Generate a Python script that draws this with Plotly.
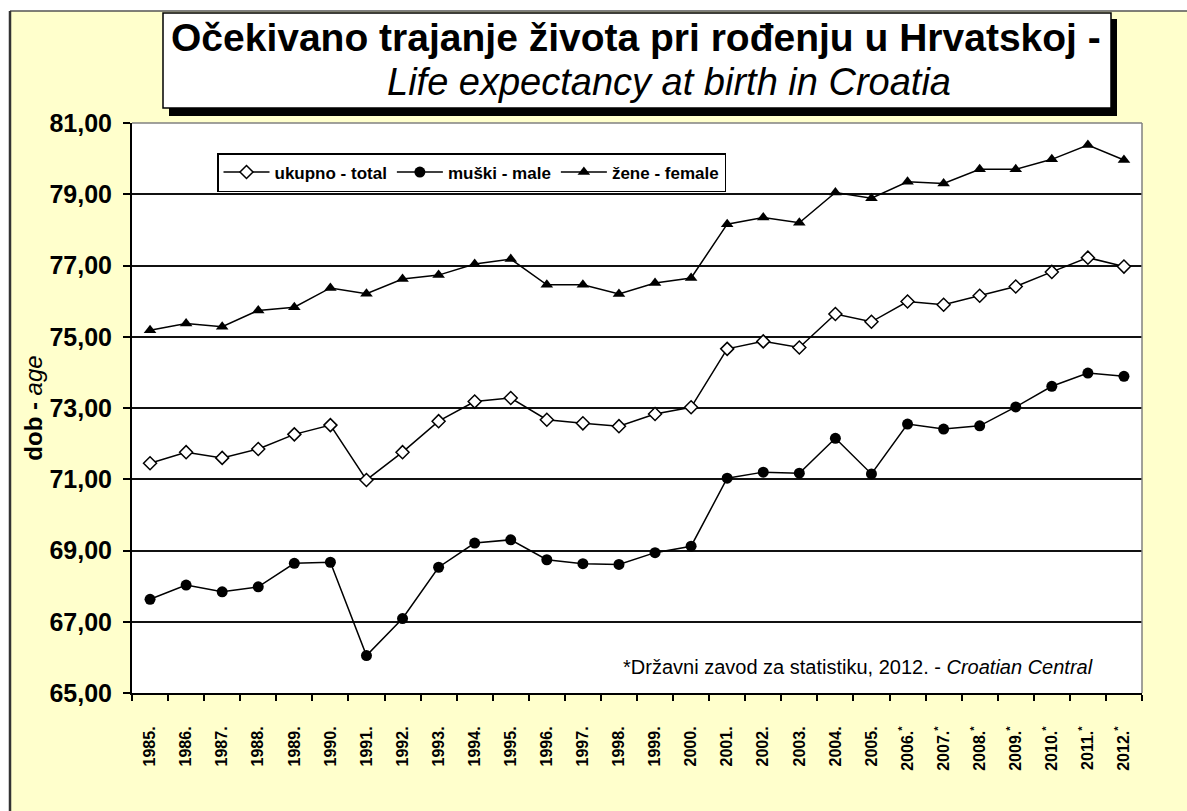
import plotly.graph_objects as go

years = ["1985.", "1986.", "1987.", "1988.", "1989.", "1990.", "1991.", "1992.", "1993.", "1994.",
         "1995.", "1996.", "1997.", "1998.", "1999.", "2000.", "2001.", "2002.", "2003.", "2004.",
         "2005.", "2006.*", "2007.*", "2008.*", "2009.*", "2010.*", "2011.*", "2012.*"]

total = [71.45, 71.76, 71.60, 71.85, 72.26, 72.52, 70.98, 71.76, 72.63, 73.18,
         73.28, 72.67, 72.57, 72.49, 72.83, 73.02, 74.66, 74.87, 74.70, 75.64,
         75.42, 75.99, 75.90, 76.15, 76.41, 76.82, 77.22, 76.97]
male = [67.63, 68.03, 67.84, 67.98, 68.64, 68.67, 66.05, 67.09, 68.53, 69.21,
        69.30, 68.74, 68.63, 68.61, 68.94, 69.12, 71.03, 71.20, 71.17, 72.15,
        71.15, 72.55, 72.41, 72.50, 73.03, 73.61, 73.98, 73.89]
female = [75.18, 75.37, 75.28, 75.74, 75.83, 76.37, 76.21, 76.62, 76.73, 77.04,
          77.18, 76.46, 76.46, 76.20, 76.51, 76.65, 78.16, 78.35, 78.20, 79.05,
          78.89, 79.35, 79.30, 79.70, 79.70, 79.98, 80.38, 79.96]

tick_text = [y.replace("*", "<sup>*</sup>") for y in years]

FONT = "Liberation Sans, Arial, sans-serif"
W, H = 1187, 811
L, R, T, B = 132, 1142, 123, 693


def px(x):
    return (x - L) / (R - L)


def py(y):
    return (B - y) / (B - T)


fig = go.Figure()
fig.add_trace(go.Scatter(x=years, y=total, name="ukupno - total", mode="lines+markers",
                         line=dict(color="black", width=1.5),
                         marker=dict(symbol="diamond", size=10, color="white",
                                     line=dict(color="black", width=1.5))))
fig.add_trace(go.Scatter(x=years, y=male, name="muški - male", mode="lines+markers",
                         line=dict(color="black", width=1.5),
                         marker=dict(symbol="circle", size=11, color="black")))
fig.add_trace(go.Scatter(x=years, y=female, name="žene - female", mode="lines+markers",
                         line=dict(color="black", width=1.5),
                         marker=dict(symbol="triangle-up", size=11, color="black")))

shapes = [
    # white strips outside the yellow frame
    dict(type="rect", xref="paper", yref="paper", x0=px(0), x1=px(W), y0=py(0), y1=py(11),
         fillcolor="white", line=dict(width=0), layer="above"),
    dict(type="rect", xref="paper", yref="paper", x0=px(0), x1=px(10), y0=py(0), y1=py(H),
         fillcolor="white", line=dict(width=0), layer="above"),
    dict(type="line", xref="paper", yref="paper", x0=px(10), x1=px(W), y0=py(11), y1=py(11),
         line=dict(color="#555555", width=1.5), layer="above"),
    dict(type="line", xref="paper", yref="paper", x0=px(10), x1=px(10), y0=py(11), y1=py(H),
         line=dict(color="#333333", width=2.5), layer="above"),
    # title box shadow and box
    dict(type="rect", xref="paper", yref="paper", x0=px(169), x1=px(1117), y0=py(116), y1=py(19),
         fillcolor="black", line=dict(width=0), layer="above"),
    dict(type="rect", xref="paper", yref="paper", x0=px(163), x1=px(1111), y0=py(108), y1=py(13),
         fillcolor="white", line=dict(color="black", width=1.5), layer="above"),
    # plot area top/right border
    dict(type="line", xref="paper", yref="paper", x0=0, x1=1, y0=1, y1=1,
         line=dict(color="#808080", width=1.5), layer="above"),
    dict(type="line", xref="paper", yref="paper", x0=1, x1=1, y0=0, y1=1,
         line=dict(color="#808080", width=1.5), layer="above"),
]

annotations = [
    dict(text="<b>Očekivano trajanje života pri rođenju u Hrvatskoj -</b>", xref="paper", yref="paper",
         x=px(636), y=py(38), xanchor="center", yanchor="middle", showarrow=False,
         font=dict(family=FONT, size=39, color="black")),
    dict(text="<i>Life expectancy at birth in Croatia</i>", xref="paper", yref="paper",
         x=px(669), y=py(82), xanchor="center", yanchor="middle", showarrow=False,
         font=dict(family=FONT, size=38, color="black")),
    dict(text="*Državni zavod za statistiku, 2012. - <i>Croatian Central</i>", xref="paper", yref="paper",
         x=px(1095), y=py(667), xanchor="right", yanchor="middle", showarrow=False,
         font=dict(family=FONT, size=20, color="black")),
]

fig.update_layout(
    width=W, height=H,
    margin=dict(l=L, r=W - R, t=T, b=H - B, autoexpand=False),
    paper_bgcolor="#FFFFCC",
    plot_bgcolor="white",
    separators=",.",
    font=dict(family=FONT, color="black"),
    showlegend=True,
    legend=dict(orientation="h", x=px(217), y=py(153), xanchor="left", yanchor="top",
                bgcolor="white", bordercolor="black", borderwidth=1.5,
                font=dict(family=FONT, size=17, color="black", weight="bold"),
                itemwidth=46),
    shapes=shapes,
    annotations=annotations,
    xaxis=dict(type="category", categoryorder="array", categoryarray=years,
               tickmode="array", tickvals=years, ticktext=tick_text,
               range=[-0.5, len(years) - 0.5],
               showline=True, linecolor="black", linewidth=2,
               ticks="outside", tickson="boundaries", ticklen=6, tickwidth=1.5, tickcolor="black",
               tickangle=-90, ticklabelstandoff=25,
               tickfont=dict(family=FONT, size=16, color="black", weight="bold"),
               showgrid=False, zeroline=False, automargin=False),
    yaxis=dict(range=[65, 81], dtick=2, tick0=65, tickformat=".2f",
               showline=True, linecolor="black", linewidth=2,
               ticks="outside", ticklen=7, tickwidth=1.5, tickcolor="black",
               ticklabelstandoff=6,
               tickfont=dict(family=FONT, size=25, color="black", weight="bold"),
               showgrid=True, gridcolor="#111111", gridwidth=1.5, zeroline=False,
               title=dict(text="<b>dob -</b> <i>age</i>", standoff=0,
                          font=dict(family=FONT, size=24, color="black")),
               automargin=False),
)

fig.write_html("out.html", config={"displayModeBar": False},
               post_script="document.body.style.margin='0';document.body.style.overflow='hidden';")
